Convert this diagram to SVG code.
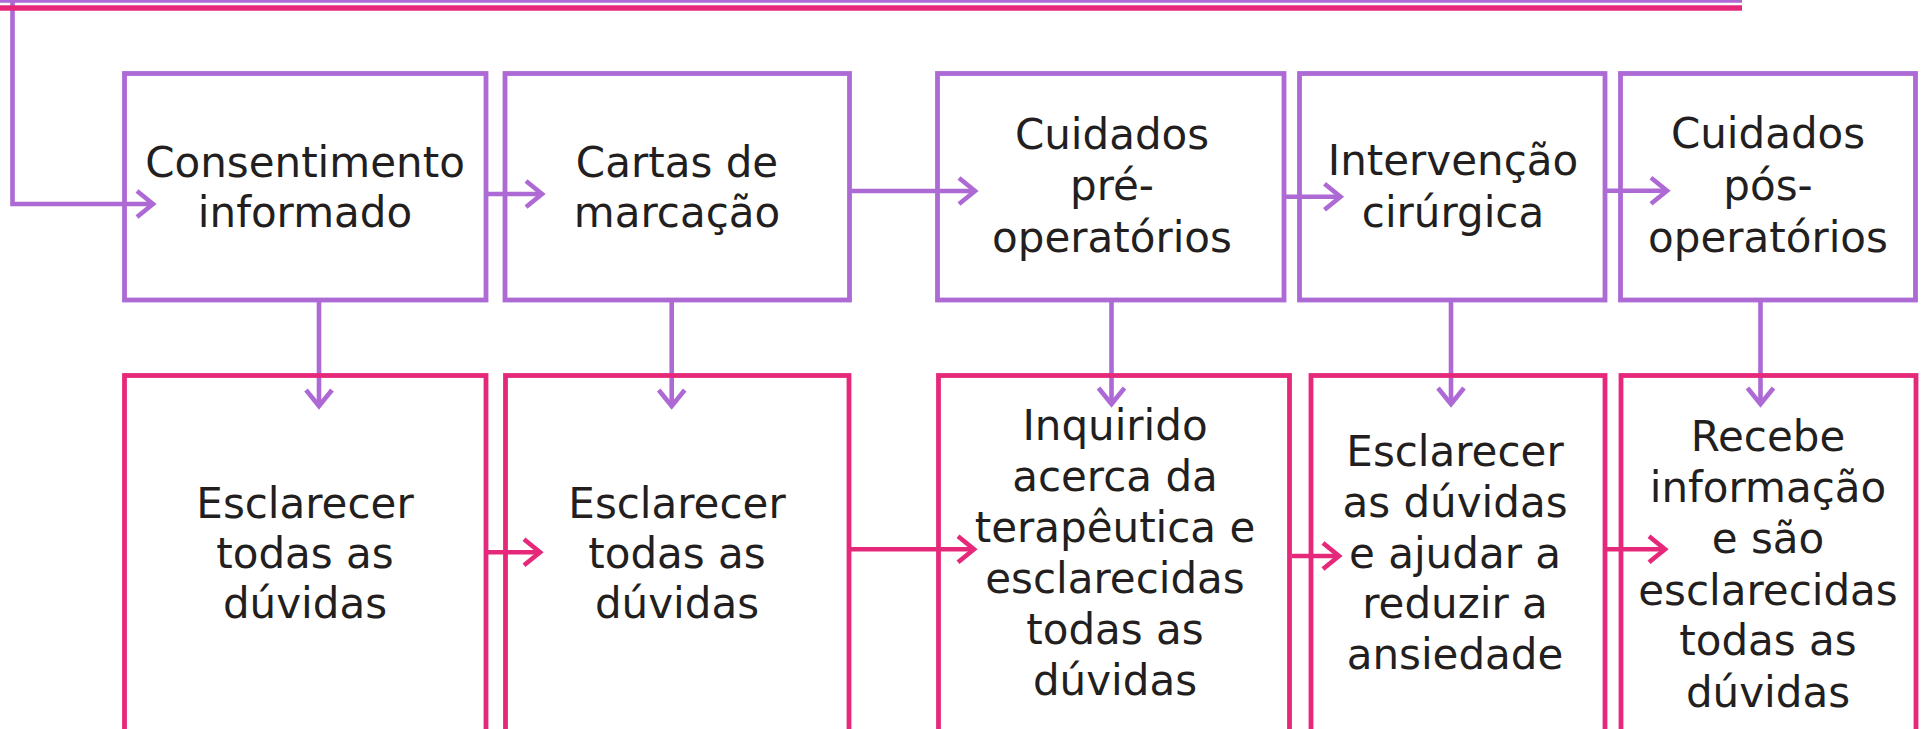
<svg xmlns="http://www.w3.org/2000/svg" width="1922" height="729" viewBox="0 0 1922 729">
<style>
.bg{fill:#ffffff}
.pbox{fill:none;stroke:#AD6AD5;stroke-width:4.8}
.kbox{fill:none;stroke:#E6287B;stroke-width:4.8}
.pl{fill:none;stroke:#AD6AD5;stroke-width:4.6}
.kl{fill:none;stroke:#E6287B;stroke-width:4.6}
.pa{marker-end:url(#ap)}
.ka{marker-end:url(#ak)}
text{font-family:"DejaVu Sans","Liberation Sans",sans-serif;font-size:42px;fill:#231F20;text-anchor:middle}
</style>
<defs>
<marker id="ap" markerUnits="userSpaceOnUse" markerWidth="40" markerHeight="40" viewBox="-25 -20 40 40" refX="0" refY="0" orient="auto" overflow="visible">
<path d="M-16,-13 L0,0 L-16,13" fill="none" stroke="#AD6AD5" stroke-width="4.6"/>
</marker>
<marker id="ak" markerUnits="userSpaceOnUse" markerWidth="40" markerHeight="40" viewBox="-25 -20 40 40" refX="0" refY="0" orient="auto" overflow="visible">
<path d="M-16,-13 L0,0 L-16,13" fill="none" stroke="#E6287B" stroke-width="4.6"/>
</marker>
</defs>
<rect class="bg" x="0" y="0" width="1922" height="729"/>

<g id="connectors">
<path class="pl pa" d="M12.5,0 V204 H153"/>
<line x1="0" y1="0.5" x2="1742" y2="0.5" stroke="#AD6AD5" stroke-width="4.6"/>
<line x1="0" y1="8" x2="1742" y2="8" stroke="#E6287B" stroke-width="5.5"/>
<path class="pl pa" d="M486,194 H542"/>
<path class="pl pa" d="M849.5,191 H975"/>
<path class="pl pa" d="M1284,196.7 H1340.5"/>
<path class="pl pa" d="M1605,190.7 H1667"/>
<path class="pl pa" d="M319,300 V406"/>
<path class="pl pa" d="M671.7,300 V406"/>
<path class="pl pa" d="M1111.5,300 V404"/>
<path class="pl pa" d="M1451,300 V404"/>
<path class="pl pa" d="M1760.5,300 V404"/>
<path class="kl ka" d="M486,552.3 H540"/>
<path class="kl ka" d="M849,549.3 H974"/>
<path class="kl ka" d="M1292,556 H1339"/>
<path class="kl ka" d="M1605,549.3 H1665"/>
</g>

<g id="n1"><rect class="pbox" x="124.5" y="73.5" width="361.5" height="226.5"/>
<text x="305"><tspan x="305" y="176.7">Consentimento</tspan><tspan x="305" y="226.7">informado</tspan></text></g>
<g id="n2"><rect class="pbox" x="505" y="73.5" width="344.5" height="226.5"/>
<text x="677"><tspan x="677" y="176.5">Cartas de</tspan><tspan x="677" y="226.7">marcação</tspan></text></g>
<g id="n3"><rect class="pbox" x="937.5" y="73.5" width="346.5" height="226.5"/>
<text x="1112"><tspan x="1112" y="148.5">Cuidados</tspan><tspan x="1112" y="200">pré-</tspan><tspan x="1112" y="251.5">operatórios</tspan></text></g>
<g id="n4"><rect class="pbox" x="1299.5" y="73.5" width="305.5" height="226.5"/>
<text x="1453"><tspan x="1453" y="175">Intervenção</tspan><tspan x="1453" y="226.7">cirúrgica</tspan></text></g>
<g id="n5"><rect class="pbox" x="1620.5" y="73.5" width="295" height="226.5"/>
<text x="1768"><tspan x="1768" y="148.3">Cuidados</tspan><tspan x="1768" y="200">pós-</tspan><tspan x="1768" y="251.7">operatórios</tspan></text></g>

<g id="b1"><rect class="kbox" x="124.5" y="375.5" width="361.5" height="400"/>
<text x="305"><tspan x="305" y="517.7">Esclarecer</tspan><tspan x="305" y="568.3">todas as</tspan><tspan x="305" y="618.3">dúvidas</tspan></text></g>
<g id="b2"><rect class="kbox" x="505.5" y="375.5" width="343.5" height="400"/>
<text x="677"><tspan x="677" y="517.7">Esclarecer</tspan><tspan x="677" y="568.3">todas as</tspan><tspan x="677" y="618.3">dúvidas</tspan></text></g>
<g id="b3"><rect class="kbox" x="938.5" y="375.5" width="351" height="400"/>
<text x="1115"><tspan x="1115" y="440">Inquirido</tspan><tspan x="1115" y="491">acerca da</tspan><tspan x="1115" y="541.7">terapêutica e</tspan><tspan x="1115" y="593.3">esclarecidas</tspan><tspan x="1115" y="644">todas as</tspan><tspan x="1115" y="695">dúvidas</tspan></text></g>
<g id="b4"><rect class="kbox" x="1311" y="375.5" width="294" height="400"/>
<text x="1455"><tspan x="1455" y="465.7">Esclarecer</tspan><tspan x="1455" y="516.7">as dúvidas</tspan><tspan x="1455" y="568.3">e ajudar a</tspan><tspan x="1455" y="618.3">reduzir a</tspan><tspan x="1455" y="669.3">ansiedade</tspan></text></g>
<g id="b5"><rect class="kbox" x="1621" y="375.5" width="295" height="400"/>
<text x="1768"><tspan x="1768" y="450.7">Recebe</tspan><tspan x="1768" y="501.7">informação</tspan><tspan x="1768" y="553.3">e são</tspan><tspan x="1768" y="605">esclarecidas</tspan><tspan x="1768" y="655">todas as</tspan><tspan x="1768" y="706.7">dúvidas</tspan></text></g>
</svg>
